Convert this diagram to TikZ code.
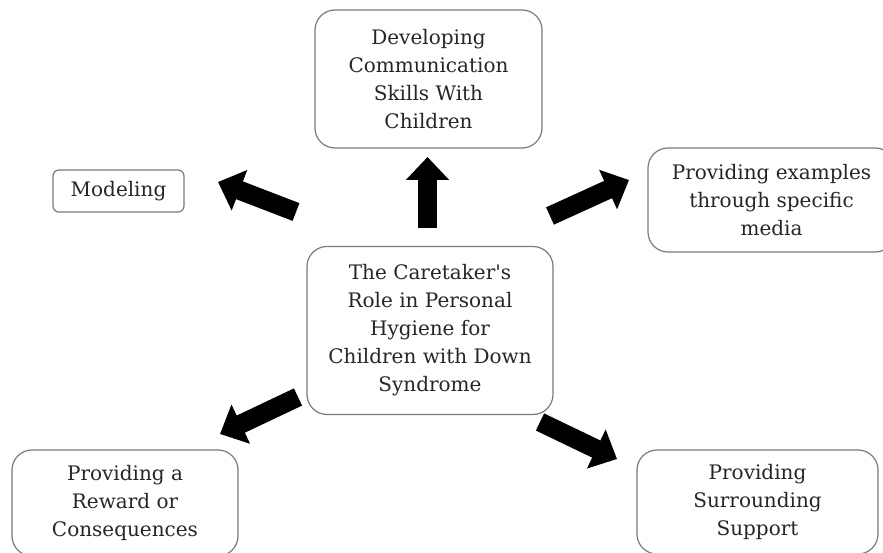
\documentclass[tikz,border=0pt]{standalone}
\usepackage{fontspec}
\setmainfont{DejaVu Serif}
\usetikzlibrary{arrows.meta}
\definecolor{boxline}{HTML}{7A7A7A}
\definecolor{boxtext}{HTML}{262626}
\tikzset{
  card/.style={draw=boxline, line width=1.2pt, rounded corners=20pt, align=center,
    text=boxtext, inner sep=0pt, font=\fontsize{20}{28}\selectfont},
  smallcard/.style={card, rounded corners=6pt},
  bigarrow/.style={line width=19pt, draw=black, -{Triangle[width=42pt,length=23pt]}}
}
\begin{document}
\begin{tikzpicture}[x=1pt,y=-1pt]
\useasboundingbox (0,0) rectangle (883,553);

% central topic
\node[card, minimum width=246pt, minimum height=168pt] (hub) at (430,330.5)
  {The Caretaker\textquotesingle s\\Role in Personal\\Hygiene for\\Children with Down\\Syndrome};

% surrounding roles
\node[card, minimum width=227pt, minimum height=138pt] (comm) at (428.5,79)
  {Developing\\Communication\\Skills With\\Children};
\node[smallcard, minimum width=131pt, minimum height=42pt] (model) at (118.5,191)
  {Modeling};
\node[card, minimum width=247pt, minimum height=104pt] (media) at (771.5,200)
  {Providing examples\\through specific\\media};
\node[card, minimum width=226pt, minimum height=106pt] (reward) at (125,503)
  {Providing a\\Reward or\\Consequences};
\node[card, minimum width=241pt, minimum height=104pt] (support) at (757.5,502)
  {Providing\\Surrounding\\Support};

% arrow ends
\coordinate (upT) at (427.5,228);   \coordinate (upH) at (427.5,157);
\coordinate (luT) at (296,212);     \coordinate (luH) at (218,182);
\coordinate (ruT) at (550,216);     \coordinate (ruH) at (629,180);
\coordinate (ldT) at (298,397);     \coordinate (ldH) at (220,434);
\coordinate (rdT) at (540,422);     \coordinate (rdH) at (617,459);

\draw[bigarrow] (upT) -- (upH);
\draw[bigarrow] (luT) -- (luH);
\draw[bigarrow] (ruT) -- (ruH);
\draw[bigarrow] (ldT) -- (ldH);
\draw[bigarrow] (rdT) -- (rdH);
\end{tikzpicture}
\end{document}
